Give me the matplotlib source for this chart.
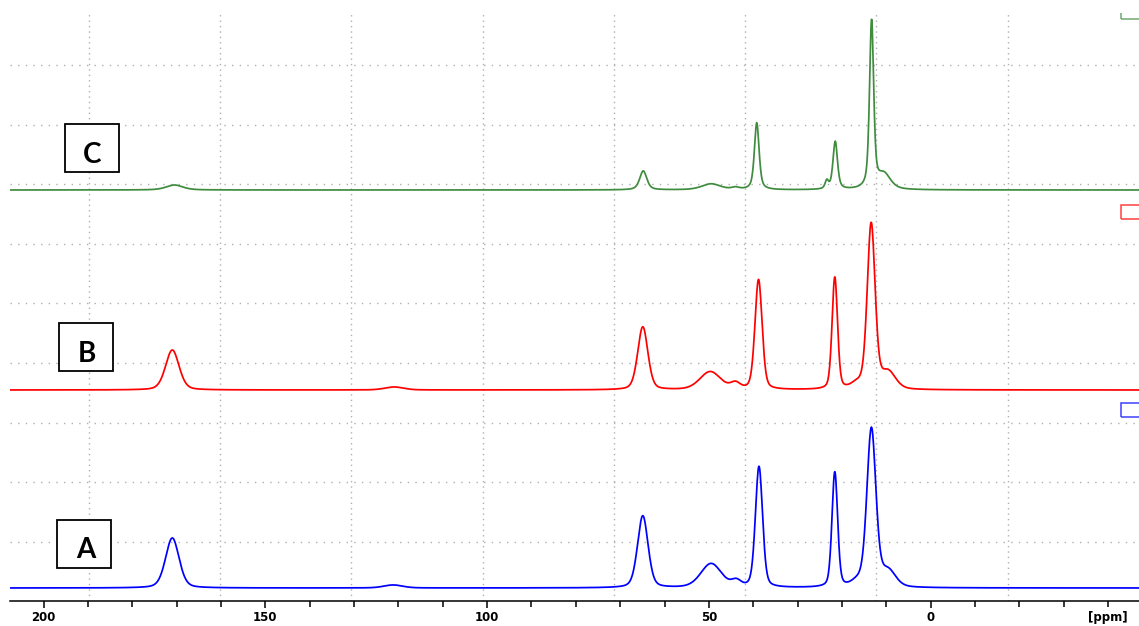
import numpy as np
import matplotlib
matplotlib.use("Agg")
import matplotlib.pyplot as plt
from matplotlib.patches import Rectangle

# --- spectra: peak tables (chemical shift in ppm, intensity, line width in ppm) ---
spectrum_names = ["A", "B", "C"]
spectrum_colors = ["#0000ff", "#ff0000", "#3f8c3f"]
spectrum_offsets = [0, 198, 398]          # vertical stacking offsets
lorentz_fraction = [0.3, 0.3, 0.55]       # pseudo-Voigt mixing per spectrum

peaks_A_ppm = [171.0, 121.2, 64.9, 49.5, 43.8, 38.7, 21.6, 16.5, 13.35, 9.6]
peaks_A_int = [50, 3, 72, 24, 6, 121, 115, 5, 158, 16]
peaks_A_fwhm = [3.6, 5.0, 2.8, 5.5, 2.5, 1.9, 1.5, 3.0, 2.4, 4.0]

peaks_B_ppm = [171.0, 121.0, 64.9, 49.7, 44.0, 38.8, 21.6, 16.6, 13.4, 9.6]
peaks_B_int = [40, 3, 63, 18, 6, 110, 112, 5, 165, 17]
peaks_B_fwhm = [3.6, 5.0, 2.7, 5.5, 2.5, 1.9, 1.45, 3.0, 2.1, 4.0]

peaks_C_ppm = [170.5, 64.8, 49.5, 44.0, 39.2, 23.4, 21.5, 13.3, 10.5]
peaks_C_int = [5, 19, 6, 2, 67, 8, 48, 168, 15]
peaks_C_fwhm = [4.5, 1.9, 5.0, 2.0, 1.25, 0.9, 1.2, 1.1, 3.5]

peak_tables = [
    (peaks_A_ppm, peaks_A_int, peaks_A_fwhm),
    (peaks_B_ppm, peaks_B_int, peaks_B_fwhm),
    (peaks_C_ppm, peaks_C_int, peaks_C_fwhm),
]

# axis ticks
major_ticks = [200, 150, 100, 50, 0]
minor_ticks = list(range(200, -41, -10))
x_limits = (207.6, -47.0)
y_limits = (-13, 575)

# dotted display grid (independent of the ppm ticks)
grid_x_ppm = [189.8, 160.2, 130.6, 101.0, 71.4, 41.8, 12.2, -17.4]
grid_y = [46.2, 105.8, 165.4, 225.0, 284.6, 344.2, 403.8, 463.4, 523.0]


def pseudo_voigt(x, center, height, fwhm, eta):
    hw = fwhm / 2.0
    sigma = fwhm / 2.3548
    lor = 1.0 / (1.0 + ((x - center) / hw) ** 2)
    gau = np.exp(-0.5 * ((x - center) / sigma) ** 2)
    return height * (eta * lor + (1 - eta) * gau)


W, H, DPI = 1139, 626, 100
fig = plt.figure(figsize=(W / DPI, H / DPI), dpi=DPI)
ax = fig.add_axes([10 / W, 25 / H, 1129 / W, 588 / H])

ppm = np.linspace(x_limits[0], x_limits[1], 2600)

# grid
for gx in grid_x_ppm:
    ax.axvline(gx, color="#b0b0b0", lw=1.0, dashes=(1, 2.9), zorder=0)
for gy in grid_y:
    ax.axhline(gy, color="#b0b0b0", lw=1.0, dashes=(1, 4.5), zorder=0)

for (p, i, w), off, col, eta in zip(peak_tables, spectrum_offsets,
                                    spectrum_colors, lorentz_fraction):
    y = np.zeros_like(ppm)
    for c, h, f in zip(p, i, w):
        y += pseudo_voigt(ppm, c, h, f, eta)
    ax.plot(ppm, y + off, color=col, lw=1.25, zorder=3)
    # spectrum marker at right edge
    ax.add_patch(Rectangle((-42.9, off + 171), -25, 14, fill=False,
                           edgecolor=col, lw=1.1, alpha=0.75, zorder=3))

ax.set_xlim(*x_limits)
ax.set_ylim(*y_limits)

for s in ["left", "top", "right"]:
    ax.spines[s].set_visible(False)
ax.spines["bottom"].set_linewidth(1.1)
ax.set_yticks([])

ax.set_xticks(major_ticks)
ax.set_xticks(minor_ticks, minor=True)
ax.set_xticklabels([str(t) for t in major_ticks])
ax.tick_params(axis="x", which="major", length=5, width=1.1, pad=2.0,
               direction="out")
ax.tick_params(axis="x", which="minor", length=4.0, width=1.1,
               direction="out")
for lab in ax.get_xticklabels():
    lab.set_fontfamily("DejaVu Sans")
    lab.set_fontweight("bold")
    lab.set_fontsize(8.5)

ax.annotate("[ppm]", xy=(-40, 0), xycoords=("data", "axes fraction"),
            xytext=(0, -7.0), textcoords="offset points",
            ha="center", va="top", fontfamily="DejaVu Sans",
            fontweight="bold", fontsize=8.5)

# labelled boxes (pixel positions measured from the top-left corner)
boxes = [
    ("C", 65, 124, 54, 48, 92.5, 163),
    ("B", 59, 323, 54, 48, 86.5, 362),
    ("A", 57, 520, 54, 48, 85.5, 558),
]
for text, bx, by, bw, bh, tx, ty in boxes:
    fig.add_artist(Rectangle((bx / W, 1 - (by + bh) / H), bw / W, bh / H,
                             transform=fig.transFigure, fill=True,
                             facecolor="white", edgecolor="black", lw=1.3,
                             zorder=5))
    fig.text(tx / W, 1 - ty / H, text, ha="center", va="baseline",
             fontfamily="Lato", fontweight="bold", fontsize=20,
             zorder=6)

fig.savefig("out.png", dpi=DPI)
